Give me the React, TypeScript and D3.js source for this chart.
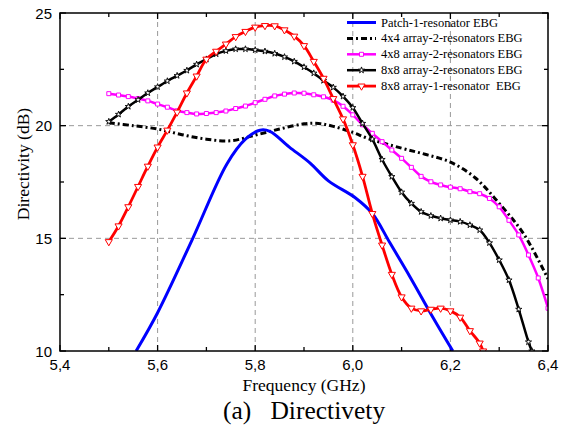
import React from "react";
import * as d3 from "d3";

const W = 566;
const H = 430;

const xTicks = [5.4, 5.6, 5.8, 6.0, 6.2, 6.4];
const xMinor = [5.5, 5.7, 5.9, 6.1, 6.3];
const yTicks = [10, 15, 20, 25];
const yMinor = [12.5, 17.5, 22.5];
const xGrid = [5.6, 5.8, 6.0, 6.2];
const yGrid = [15, 20];

const seriesNames = [
  "Patch-1-resonator EBG",
  "4x4 array-2-resonators EBG",
  "4x8 array-2-resonators EBG",
  "8x8 array-2-resonators EBG",
  "8x8 array-1-resonator  EBG",
];

// Patch-1-resonator EBG (blue)
const patchF = [5.556, 5.6, 5.67, 5.742, 5.78, 5.81, 5.83, 5.87, 5.912, 5.95, 6.005, 6.04, 6.076, 6.117, 6.164, 6.205];
const patchD = [10, 11.7, 14.9, 18.3, 19.4, 19.8, 19.75, 19.05, 18.35, 17.55, 16.8, 16.1, 14.8, 13.3, 11.5, 10];

// 4x4 array-2-resonators EBG (black dash-dot)
const a44F = [5.5, 5.55, 5.6, 5.65, 5.7, 5.75, 5.8, 5.85, 5.9, 5.93, 5.96, 6.0, 6.03, 6.1, 6.15, 6.2, 6.25, 6.3, 6.35, 6.4];
const a44D = [20.13, 20.0, 19.85, 19.6, 19.4, 19.33, 19.58, 19.85, 20.08, 20.1, 19.97, 19.7, 19.44, 19.0, 18.72, 18.38, 17.7, 16.55, 15.2, 13.2];

// 4x8 array-2-resonators EBG (magenta, squares)
const a48F = [5.5, 5.52, 5.54, 5.56, 5.58, 5.6, 5.62, 5.64, 5.66, 5.68, 5.7, 5.72, 5.74, 5.76, 5.78, 5.8, 5.82, 5.84, 5.86, 5.88, 5.9, 5.92, 5.94, 5.96, 5.98, 6.0, 6.02, 6.04, 6.06, 6.08, 6.1, 6.12, 6.14, 6.16, 6.18, 6.2, 6.22, 6.24, 6.26, 6.28, 6.3, 6.32, 6.34, 6.36, 6.38, 6.4];
const a48D = [21.42, 21.36, 21.29, 21.2, 21.1, 20.96, 20.82, 20.66, 20.58, 20.52, 20.54, 20.58, 20.65, 20.76, 20.87, 21.02, 21.17, 21.32, 21.4, 21.45, 21.44, 21.37, 21.28, 21.13, 20.86, 20.48, 20.04, 19.66, 19.29, 18.92, 18.55, 18.15, 17.75, 17.51, 17.37, 17.27, 17.2, 17.07, 16.98, 16.77, 16.4, 15.8, 15.15, 14.26, 13.24, 11.9];

// 8x8 array-2-resonators EBG (black, stars)
const a88bF = [5.5, 5.52, 5.54, 5.56, 5.58, 5.6, 5.62, 5.64, 5.66, 5.68, 5.7, 5.72, 5.74, 5.76, 5.78, 5.8, 5.82, 5.84, 5.86, 5.88, 5.9, 5.92, 5.94, 5.96, 5.98, 6.0, 6.02, 6.04, 6.06, 6.08, 6.1, 6.12, 6.14, 6.16, 6.18, 6.2, 6.22, 6.24, 6.26, 6.28, 6.3, 6.32, 6.34, 6.36, 6.367];
const a88bD = [20.18, 20.5, 20.85, 21.15, 21.45, 21.72, 21.98, 22.22, 22.45, 22.72, 22.95, 23.18, 23.32, 23.4, 23.4, 23.36, 23.3, 23.2, 23.05, 22.85, 22.6, 22.33, 22.0, 21.7, 21.3, 20.8, 20.1, 19.4, 18.5, 17.74, 17.05, 16.55, 16.18, 16.0, 15.89, 15.81, 15.74, 15.59, 15.37, 14.8, 14.04, 13.15, 11.85, 10.4, 10];

// 8x8 array-1-resonator EBG (red, down triangles)
const a88aF = [5.5, 5.52, 5.54, 5.56, 5.58, 5.6, 5.62, 5.64, 5.66, 5.68, 5.7, 5.72, 5.74, 5.76, 5.78, 5.8, 5.82, 5.84, 5.86, 5.88, 5.9, 5.92, 5.94, 5.96, 5.98, 6.0, 6.02, 6.04, 6.06, 6.08, 6.1, 6.12, 6.14, 6.16, 6.18, 6.2, 6.22, 6.24, 6.26, 6.267];
const a88aD = [14.85, 15.55, 16.4, 17.3, 18.2, 19.05, 19.8, 20.6, 21.45, 22.2, 22.95, 23.3, 23.62, 23.95, 24.18, 24.37, 24.44, 24.43, 24.25, 23.97, 23.55, 22.85, 22.1, 21.2, 20.3, 19.15, 17.75, 16.1, 14.7, 13.4, 12.4, 11.9, 11.78, 11.85, 11.9, 11.78, 11.5, 10.9, 10.35, 10];

const M = { left: 60, right: 548, top: 13, bottom: 351 };

const x = d3.scaleLinear().domain([5.4, 6.4]).range([M.left, M.right]);
const y = d3.scaleLinear().domain([10, 25]).range([M.bottom, M.top]);

type Pt = [number, number];
const zip = (f: number[], d: number[]): Pt[] => f.map((v, i) => [v, d[i]]);

const line = d3
  .line<Pt>()
  .x((p) => x(p[0]))
  .y((p) => y(p[1]))
  .curve(d3.curveCatmullRom.alpha(0.5));

const fmt = (v: number) => v.toFixed(1).replace(".", ",");

const starPath = d3.symbol().type(d3.symbolStar).size(12)() as string;
const squarePath = d3.symbol().type(d3.symbolSquare).size(16)() as string;
const triPath = d3.symbol().type(d3.symbolTriangle).size(22)() as string;

type Series = {
  name: string;
  pts: Pt[];
  color: string;
  width: number;
  dash?: string;
  marker?: "square" | "star" | "tri";
};

const series: Series[] = [
  { name: seriesNames[1], pts: zip(a44F, a44D), color: "#000", width: 3, dash: "6 3 2 3" },
  { name: seriesNames[2], pts: zip(a48F, a48D), color: "#ff00ff", width: 2.5, marker: "square" },
  { name: seriesNames[3], pts: zip(a88bF, a88bD), color: "#000", width: 2.5, marker: "star" },
  { name: seriesNames[0], pts: zip(patchF, patchD), color: "#0000ff", width: 3 },
  { name: seriesNames[4], pts: zip(a88aF, a88aD), color: "#ff0000", width: 2.8, marker: "tri" },
];

const legendOrder = [3, 0, 1, 2, 4];

function Marker({ kind, cx, cy, color }: { kind: string; cx: number; cy: number; color: string }) {
  if (kind === "square")
    return <path d={squarePath} transform={`translate(${cx},${cy})`} fill="#fff" stroke={color} strokeWidth={1} />;
  if (kind === "star")
    return <path d={starPath} transform={`translate(${cx},${cy})`} fill="#fff" stroke={color} strokeWidth={0.9} />;
  return <path d={triPath} transform={`translate(${cx},${cy}) rotate(180)`} fill="#fff" stroke={color} strokeWidth={1} />;
}

export default function App() {
  const tickLen = 6;
  const minorLen = 4;
  return (
    <svg width={W} height={H} style={{ position: "absolute", left: 0, top: 0, background: "#fff" }}>
      <defs>
        <clipPath id="plot">
          <rect x={M.left} y={M.top} width={M.right - M.left} height={M.bottom - M.top} />
        </clipPath>
      </defs>
      <rect x={0} y={0} width={W} height={H} fill="#fff" />
      {/* grid */}
      {xGrid.map((g) => (
        <line key={"gx" + g} x1={x(g)} x2={x(g)} y1={M.top} y2={M.bottom} stroke="#999" strokeDasharray="5 4" strokeWidth={1} />
      ))}
      {yGrid.map((g) => (
        <line key={"gy" + g} x1={M.left} x2={M.right} y1={y(g)} y2={y(g)} stroke="#999" strokeDasharray="5 4" strokeWidth={1} />
      ))}
      {/* ticks */}
      {xTicks.map((t) => (
        <g key={"xt" + t}>
          <line x1={x(t)} x2={x(t)} y1={M.bottom} y2={M.bottom - tickLen} stroke="#000" strokeWidth={1.3} />
          <line x1={x(t)} x2={x(t)} y1={M.top} y2={M.top + tickLen} stroke="#000" strokeWidth={1.3} />
          <text x={x(t)} y={370} textAnchor="middle" fontFamily="'Liberation Sans', Arial, sans-serif" fontSize={15}>
            {fmt(t)}
          </text>
        </g>
      ))}
      {xMinor.map((t) => (
        <g key={"xm" + t}>
          <line x1={x(t)} x2={x(t)} y1={M.bottom} y2={M.bottom - minorLen} stroke="#000" strokeWidth={1.3} />
          <line x1={x(t)} x2={x(t)} y1={M.top} y2={M.top + minorLen} stroke="#000" strokeWidth={1.3} />
        </g>
      ))}
      {yTicks.map((t) => (
        <g key={"yt" + t}>
          <line x1={M.left} x2={M.left + tickLen} y1={y(t)} y2={y(t)} stroke="#000" strokeWidth={1.3} />
          <line x1={M.right} x2={M.right - tickLen} y1={y(t)} y2={y(t)} stroke="#000" strokeWidth={1.3} />
          <text x={52} y={y(t) + 5.5} textAnchor="end" fontFamily="'Liberation Sans', Arial, sans-serif" fontSize={15}>
            {t}
          </text>
        </g>
      ))}
      {yMinor.map((t) => (
        <g key={"ym" + t}>
          <line x1={M.left} x2={M.left + minorLen} y1={y(t)} y2={y(t)} stroke="#000" strokeWidth={1.3} />
          <line x1={M.right} x2={M.right - minorLen} y1={y(t)} y2={y(t)} stroke="#000" strokeWidth={1.3} />
        </g>
      ))}
      {/* series */}
      <g clipPath="url(#plot)">
        {series.map((s) => (
          <g key={s.name}>
            <path d={line(s.pts) as string} fill="none" stroke={s.color} strokeWidth={s.width} strokeDasharray={s.dash} strokeLinejoin="round" />
            {s.marker &&
              s.pts.map((p, i) => <Marker key={i} kind={s.marker as string} cx={x(p[0])} cy={y(p[1])} color={s.color} />)}
          </g>
        ))}
      </g>
      {/* frame */}
      <rect x={M.left} y={M.top} width={M.right - M.left} height={M.bottom - M.top} fill="none" stroke="#000" strokeWidth={1.5} />
      {/* legend */}
      {legendOrder.map((si, i) => {
        const s = series[si];
        const cy = 22.5 + i * 15.9;
        return (
          <g key={"lg" + i}>
            <line x1={347} x2={376} y1={cy} y2={cy} stroke={s.color} strokeWidth={s.width} strokeDasharray={s.dash} />
            {s.marker && <Marker kind={s.marker} cx={361.5} cy={cy} color={s.color} />}
            <text x={381} y={cy + 4} fontFamily="'Liberation Serif', 'Times New Roman', serif" fontSize={12.5} style={{ whiteSpace: "pre" }}>
              {s.name}
            </text>
          </g>
        );
      })}
      {/* axis titles */}
      <text x={304} y={391} textAnchor="middle" fontFamily="'Liberation Serif', 'Times New Roman', serif" fontSize={17.5}>
        Frequency (GHz)
      </text>
      <text
        transform={`translate(29,164) rotate(-90)`}
        textAnchor="middle"
        fontFamily="'Liberation Serif', 'Times New Roman', serif"
        fontSize={17.5}
      >
        Directivity (dB)
      </text>
      <text x={223} y={419} fontFamily="'Liberation Serif', 'Times New Roman', serif" fontSize={25.5} style={{ whiteSpace: "pre" }}>
        {"(a)   Directivety"}
      </text>
    </svg>
  );
}
